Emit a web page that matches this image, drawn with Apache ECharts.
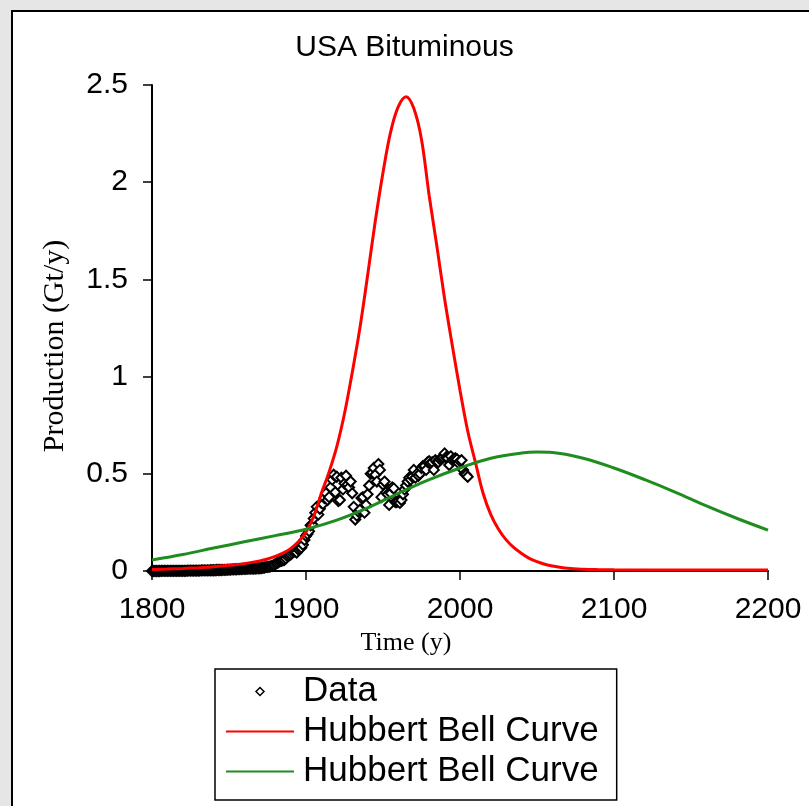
<!DOCTYPE html>
<html>
<head>
<meta charset="utf-8">
<script src="https://cdn.jsdelivr.net/npm/echarts@6/dist/echarts.min.js"></script>
<style>
  html, body { margin: 0; padding: 0; background: #e6e6e6; }
  #wrap { position: relative; width: 809px; height: 806px; overflow: hidden; }
  #panel { position: absolute; left: 11px; top: 10px; width: 820px; height: 820px; background: #fff; border: 2px solid #000; }
  #main { position: absolute; left: 0; top: 0; width: 809px; height: 806px; }
</style>
</head>
<body>
<div id="wrap">
  <div id="panel"></div>
  <div id="main"></div>
</div>
<script>
// observed production, one value per year from 1800
var dataStartYear = 1800;
var dataValues = [
  0.000, 0.000, 0.000, 0.000, 0.000, 0.000, 0.001, 0.001, 0.001, 0.001,
  0.001, 0.001, 0.001, 0.001, 0.001, 0.001, 0.001, 0.001, 0.001, 0.001,
  0.001, 0.001, 0.001, 0.002, 0.002, 0.002, 0.002, 0.002, 0.002, 0.002,
  0.002, 0.002, 0.003, 0.003, 0.003, 0.003, 0.003, 0.003, 0.004, 0.004,
  0.004, 0.004, 0.005, 0.005, 0.005, 0.005, 0.006, 0.006, 0.006, 0.007,
  0.007, 0.007, 0.008, 0.008, 0.009, 0.009, 0.010, 0.010, 0.010, 0.011,
  0.011, 0.011, 0.012, 0.012, 0.012, 0.013, 0.013, 0.013, 0.014, 0.014,
  0.014, 0.015, 0.016, 0.018, 0.020, 0.021, 0.022, 0.024, 0.026, 0.030,
  0.035, 0.040, 0.045, 0.050, 0.052, 0.055, 0.058, 0.065, 0.075, 0.080,
  0.085, 0.092, 0.098, 0.100, 0.095, 0.110, 0.115, 0.120, 0.135, 0.160,
  0.180, 0.190, 0.205, 0.235, 0.240, 0.270, 0.300, 0.330, 0.290, 0.320,
  0.350, 0.345, 0.375, 0.400, 0.365, 0.380, 0.430, 0.470, 0.495, 0.405,
  0.485, 0.360, 0.365, 0.480, 0.420, 0.450, 0.490, 0.445, 0.430, 0.460,
  0.400, 0.330, 0.265, 0.285, 0.305, 0.315, 0.375, 0.380, 0.300, 0.340,
  0.395, 0.440, 0.500, 0.505, 0.530, 0.495, 0.460, 0.550, 0.520, 0.380,
  0.445, 0.460, 0.405, 0.395, 0.340, 0.400, 0.430, 0.425, 0.355, 0.355,
  0.360, 0.350, 0.365, 0.395, 0.420, 0.440, 0.460, 0.480, 0.470, 0.485,
  0.520, 0.480, 0.500, 0.490, 0.500, 0.530, 0.540, 0.540, 0.520, 0.560,
  0.565, 0.555, 0.560, 0.520, 0.570, 0.560, 0.560, 0.575, 0.580, 0.585,
  0.605, 0.585, 0.580, 0.545, 0.590, 0.570, 0.575, 0.580, 0.575, 0.555,
  0.565, 0.570, 0.520, 0.500, 0.495, 0.485
];

// first Hubbert fit (red)
var redYears = [1800, 1810, 1820, 1830, 1840, 1850, 1860, 1870, 1875, 1880, 1885, 1890, 1895,
  1900, 1905, 1910, 1915, 1920, 1925, 1930, 1935, 1940, 1945, 1950, 1955, 1960, 1965,
  1970, 1975, 1980, 1985, 1990, 1995, 2000, 2005, 2010, 2015, 2020, 2025, 2030, 2035,
  2040, 2045, 2050, 2055, 2060, 2070, 2080, 2090, 2100, 2150, 2200];
var redValues = [0.008, 0.010, 0.013, 0.017, 0.022, 0.029, 0.038, 0.052, 0.062, 0.075, 0.092, 0.115, 0.150,
  0.200, 0.280, 0.400, 0.510, 0.640, 0.810, 1.020, 1.250, 1.520, 1.800, 2.050, 2.260, 2.390, 2.440,
  2.380, 2.220, 1.930, 1.670, 1.400, 1.160, 0.930, 0.720, 0.560, 0.400, 0.290, 0.215, 0.160, 0.120,
  0.090, 0.065, 0.048, 0.035, 0.026, 0.014, 0.009, 0.007, 0.006, 0.005, 0.005];

// second Hubbert fit (green)
var greenYears = [1800, 1820, 1840, 1860, 1880, 1900, 1920, 1940, 1960, 1980, 2000, 2020, 2040,
  2050, 2060, 2080, 2100, 2120, 2140, 2160, 2180, 2200];
var greenValues = [0.057, 0.085, 0.118, 0.150, 0.182, 0.215, 0.262, 0.325, 0.400, 0.470, 0.530, 0.580, 0.607,
  0.612, 0.610, 0.580, 0.530, 0.470, 0.405, 0.335, 0.270, 0.210];

var seriesNames = ['Data', 'Hubbert Bell Curve', 'Hubbert Bell Curve '];

function pairs(xs, ys) {
  var out = [];
  for (var i = 0; i < xs.length; i++) out.push([xs[i], ys[i]]);
  return out;
}
var dataPoints = dataValues.map(function (v, i) { return [dataStartYear + i, v]; });

var sans = 'Liberation Sans, Arial, sans-serif';
var serif = 'Liberation Serif, Times New Roman, serif';

var chart = echarts.init(document.getElementById('main'), null, { renderer: 'canvas' });
var option = {
  animation: false,
  backgroundColor: 'transparent',
  title: {
    text: 'USA Bituminous',
    left: 'center',
    top: 28,
    textStyle: { fontFamily: sans, fontSize: 30, fontWeight: 'normal', color: '#000' }
  },
  grid: { left: 152, right: 41, top: 85, bottom: 235, containLabel: false },
  legend: {
    orient: 'vertical',
    left: 215,
    top: 669,
    padding: [5, 18, 11, 10],
    itemGap: 5,
    itemWidth: 68,
    itemHeight: 8,
    borderColor: '#000',
    borderWidth: 1.5,
    borderRadius: 0,
    backgroundColor: '#fff',
    formatter: function (n) { return n.trim(); },
    textStyle: { fontFamily: sans, fontSize: 35, color: '#000', padding: [0, 0, 0, 4] },
    data: [
      { name: seriesNames[0], icon: 'path://M4,0L8,4L4,8L0,4Z', itemStyle: { color: '#fff', borderColor: '#000', borderWidth: 1.5 } },
      { name: seriesNames[1], itemStyle: { opacity: 0 } },
      { name: seriesNames[2], itemStyle: { opacity: 0 } }
    ]
  },
  xAxis: {
    type: 'value',
    min: 1800,
    max: 2200,
    interval: 100,
    name: 'Time (y)',
    nameLocation: 'middle',
    nameGap: 58,
    nameTextStyle: { fontFamily: serif, fontSize: 26, color: '#000', padding: [0, 108, 0, 0] },
    axisLine: { onZero: false, lineStyle: { color: '#000', width: 2 } },
    axisTick: { show: true, inside: false, length: 9, lineStyle: { color: '#000', width: 1.5 } },
    axisLabel: { margin: 24, fontFamily: sans, fontSize: 30, color: '#000', formatter: function (v) { return String(v); } },
    splitLine: { show: false }
  },
  yAxis: {
    type: 'value',
    min: 0,
    max: 2.5,
    interval: 0.5,
    name: 'Production (Gt/y)',
    nameLocation: 'middle',
    nameRotate: 90,
    nameGap: 82,
    nameTextStyle: { fontFamily: serif, fontSize: 30, color: '#000', padding: [0, 36, 0, 0] },
    axisLine: { onZero: false, lineStyle: { color: '#000', width: 2 } },
    axisTick: { show: true, inside: false, length: 9, lineStyle: { color: '#000', width: 1.5 } },
    axisLabel: { margin: 24, fontFamily: sans, fontSize: 30, color: '#000' },
    splitLine: { show: false }
  },
  series: [
    {
      name: seriesNames[0],
      type: 'scatter',
      symbol: 'diamond',
      symbolSize: 10,
      symbolKeepAspect: true,
      z: 2,
      itemStyle: { color: '#fff', borderColor: '#000', borderWidth: 2, opacity: 1 },
      data: dataPoints
    },
    {
      name: seriesNames[1],
      type: 'line',
      symbol: 'none',
      smooth: 0.35,
      z: 3,
      color: '#ff0000',
      lineStyle: { color: '#ff0000', width: 3 },
      data: pairs(redYears, redValues)
    },
    {
      name: seriesNames[2],
      type: 'line',
      symbol: 'none',
      smooth: 0.35,
      z: 3,
      color: '#1f8c1f',
      lineStyle: { color: '#1f8c1f', width: 3 },
      data: pairs(greenYears, greenValues)
    }
  ]
};
chart.setOption(option);
</script>
</body>
</html>
